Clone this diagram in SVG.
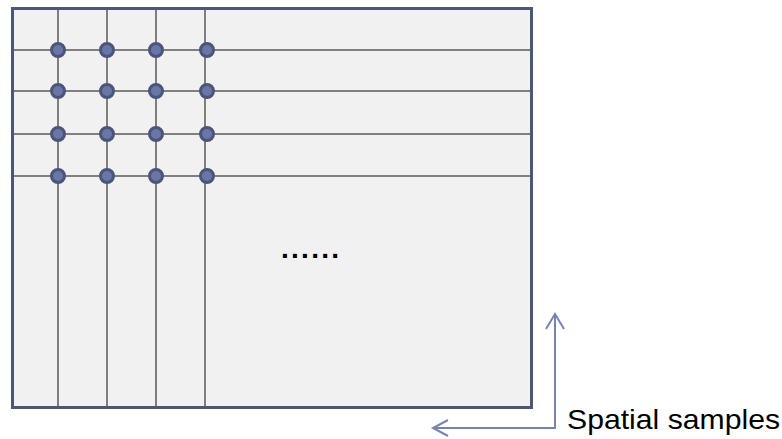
<svg xmlns="http://www.w3.org/2000/svg" width="782" height="439" viewBox="0 0 782 439">
<style>
.grid{stroke:#7f7f7f;stroke-width:2;fill:none}
.dot{fill:#6a76a6;stroke:#4b5579;stroke-width:3}
.arr{stroke:#7884b0;stroke-width:2;fill:none}
.lbl{font-family:"Liberation Sans",Arial,sans-serif;fill:#000}
</style>
<rect width="782" height="439" fill="#ffffff"/>
<g id="plane">
<rect x="12.5" y="8.5" width="519" height="399" fill="#f1f1f1" stroke="#4e5678" stroke-width="3"/>
</g>
<g id="grid">
<line class="grid" x1="58" y1="10" x2="58" y2="406"/>
<line class="grid" x1="107" y1="10" x2="107" y2="406"/>
<line class="grid" x1="156" y1="10" x2="156" y2="406"/>
<line class="grid" x1="205" y1="10" x2="205" y2="406"/>
<line class="grid" x1="14" y1="50" x2="530" y2="50"/>
<line class="grid" x1="14" y1="91" x2="530" y2="91"/>
<line class="grid" x1="14" y1="134" x2="530" y2="134"/>
<line class="grid" x1="14" y1="176" x2="530" y2="176"/>
</g>
<g id="samples">
<circle class="dot" cx="58" cy="50" r="6.5"/><circle class="dot" cx="107" cy="50" r="6.5"/><circle class="dot" cx="156" cy="50" r="6.5"/><circle class="dot" cx="207" cy="50" r="6.5"/>
<circle class="dot" cx="58" cy="91" r="6.5"/><circle class="dot" cx="107" cy="91" r="6.5"/><circle class="dot" cx="156" cy="91" r="6.5"/><circle class="dot" cx="207" cy="91" r="6.5"/>
<circle class="dot" cx="58" cy="134" r="6.5"/><circle class="dot" cx="107" cy="134" r="6.5"/><circle class="dot" cx="156" cy="134" r="6.5"/><circle class="dot" cx="207" cy="134" r="6.5"/>
<circle class="dot" cx="58" cy="176" r="6.5"/><circle class="dot" cx="107" cy="176" r="6.5"/><circle class="dot" cx="156" cy="176" r="6.5"/><circle class="dot" cx="207" cy="176" r="6.5"/>
</g>
<g id="ellipsis">
<text class="lbl" x="281" y="258" font-size="28" font-weight="bold" textLength="58" lengthAdjust="spacing">......</text>
</g>
<g id="connectors">
<polyline class="arr" points="555,314 555,428 433,428"/>
<polyline class="arr" points="546,329 555,314 564,329"/>
<polyline class="arr" points="448,420 433,428 448,436"/>
</g>
<g id="label">
<text class="lbl" x="567" y="429" font-size="28" textLength="213" lengthAdjust="spacingAndGlyphs">Spatial samples</text>
</g>
</svg>
